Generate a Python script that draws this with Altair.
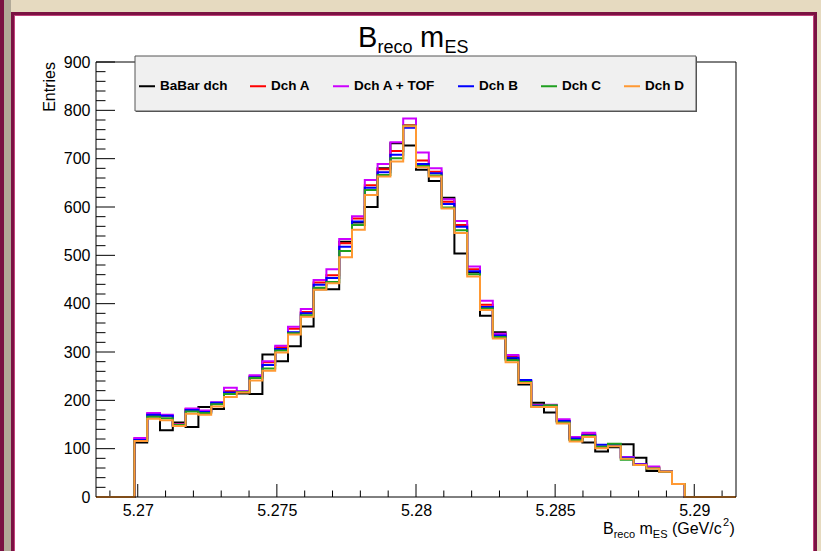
import altair as alt
import pandas as pd

# ---------------- data ----------------
SERIES = ["BaBar dch", "Dch A", "Dch A + TOF", "Dch B", "Dch C", "Dch D"]
COLORS = ["#000000", "#ff0000", "#cc00ff", "#0000ff", "#1f9f1f", "#ff9933"]

X_MIN, X_MAX = 5.2685, 5.2915
N_BINS = 50
LEAD_ZERO = 3
TRAIL_ZERO = 4

babar = [113, 167, 138, 154, 145, 186, 182, 214, 214, 213,
         295, 281, 312, 353, 430, 430, 528, 568, 600, 680,
         732, 727, 677, 654, 619, 504, 465, 375, 341, 286,
         233, 195, 175, 156, 119, 113, 94, 103, 109, 81,
         54, 52, 27]
dch_a = [121, 172, 168, 150, 182, 178, 194, 219, 218, 250,
         279, 310, 348, 383, 444, 459, 525, 576, 645, 678,
         716, 769, 696, 673, 611, 563, 471, 398, 336, 291,
         240, 190, 189, 158, 122, 130, 104, 108, 82, 68,
         62, 52, 27]
dch_a_tof = [122, 174, 170, 150, 183, 179, 196, 226, 219, 252,
             281, 313, 352, 389, 449, 471, 534, 581, 656, 689,
             734, 783, 713, 680, 616, 571, 477, 406, 338, 294,
             240, 190, 191, 161, 124, 133, 104, 108, 83, 68,
             63, 52, 27]
dch_b = [118, 170, 168, 147, 180, 176, 195, 216, 218, 248,
         273, 306, 341, 380, 439, 453, 518, 570, 640, 672,
         708, 764, 689, 670, 606, 559, 467, 393, 334, 288,
         242, 189, 188, 157, 121, 128, 108, 108, 81, 67,
         60, 52, 27]
dch_c = [116, 166, 163, 149, 177, 174, 192, 213, 217, 246,
         266, 303, 339, 376, 433, 445, 509, 563, 635, 666,
         701, 768, 685, 665, 599, 552, 461, 390, 331, 283,
         238, 187, 190, 154, 118, 126, 104, 110, 77, 66,
         59, 52, 27]
dch_d = [116, 162, 159, 147, 172, 170, 187, 207, 216, 241,
         261, 299, 336, 373, 429, 442, 496, 553, 625, 663,
         694, 767, 682, 663, 597, 546, 456, 387, 328, 279,
         236, 186, 186, 152, 115, 124, 101, 105, 79, 66,
         59, 52, 27]

X_MAJOR = [5.27, 5.275, 5.28, 5.285, 5.29]
X_MINOR = [5.269, 5.271, 5.272, 5.273, 5.274, 5.276, 5.277, 5.278, 5.279,
           5.281, 5.282, 5.283, 5.284, 5.286, 5.287, 5.288, 5.289, 5.291]
Y_MAJOR = [0, 100, 200, 300, 400, 500, 600, 700, 800, 900]
Y_MINOR = [v for v in range(20, 900, 20) if v % 100 != 0]

# ---------------- build tables ----------------
BIN_W = (X_MAX - X_MIN) / N_BINS
rows = []
for name, vals in zip(SERIES, [babar, dch_a, dch_a_tof, dch_b, dch_c, dch_d]):
    full = [0] * LEAD_ZERO + list(vals) + [0] * TRAIL_ZERO
    full = full + [full[-1]]
    for i, v in enumerate(full):
        rows.append({"series": name, "x": X_MIN + i * BIN_W, "y": v})
hist = pd.DataFrame(rows)

W, H = 640, 435
FONT = "Liberation Sans"

xscale = alt.Scale(domain=[X_MIN, X_MAX], nice=False, zero=False)
yscale = alt.Scale(domain=[0, 900], nice=False, zero=True)
xaxis = alt.Axis(values=X_MAJOR, format="~g", grid=False, ticks=False, tickSize=0,
                 domain=False, labelPadding=5, labelFont=FONT, labelFontSize=16,
                 labelColor="black", labelFlush=False, title=None, zindex=2)
yaxis = alt.Axis(values=Y_MAJOR, format="d", grid=False, ticks=False, tickSize=0,
                 domain=False, labelPadding=6, labelFont=FONT, labelFontSize=16,
                 labelColor="black", title=None, zindex=2)

one = pd.DataFrame({"k": [0]})


def rect(x, x2, y, y2, color):
    return alt.Chart(one).mark_rect().encode(
        x=alt.value(x), x2=alt.value(x2), y=alt.value(y), y2=alt.value(y2),
        color=alt.value(color))


def txt(s, x, y, size, **kw):
    return alt.Chart(one).mark_text(text=s, font=FONT, fontSize=size,
                                    align=kw.pop("align", "left"),
                                    baseline=kw.pop("baseline", "alphabetic"),
                                    color="black", **kw).encode(
        x=alt.value(x), y=alt.value(y))


OX, OY = 96, 62  # plot origin in page pixels

deco = [
    rect(-OX, 4 - OX, -OY, 551 - OY, "#7a1242"),
    rect(4 - OX, 11 - OX, -OY, 551 - OY, "#b2aa98"),
    rect(11 - OX, 817 - OX, 12 - OY, 551 - OY, "#7a1242"),
    rect(14 - OX, 814 - OX, 15 - OY, 551 - OY, "#c0407a"),
    rect(15 - OX, 813 - OX, 16 - OY, 551 - OY, "#ffffff"),
]

xt_major = alt.Chart(pd.DataFrame({"x": X_MAJOR})).mark_rule(color="black", strokeWidth=1).encode(
    x=alt.X("x:Q", scale=xscale, axis=xaxis), y=alt.value(H), y2=alt.value(H - 13))
xt_minor = alt.Chart(pd.DataFrame({"x": X_MINOR})).mark_rule(color="black", strokeWidth=1).encode(
    x=alt.X("x:Q", scale=xscale, axis=xaxis), y=alt.value(H), y2=alt.value(H - 6.5))
yt_major = alt.Chart(pd.DataFrame({"y": Y_MAJOR})).mark_rule(color="black", strokeWidth=1).encode(
    y=alt.Y("y:Q", scale=yscale, axis=yaxis), x=alt.value(0), x2=alt.value(19))
yt_minor = alt.Chart(pd.DataFrame({"y": Y_MINOR})).mark_rule(color="black", strokeWidth=1).encode(
    y=alt.Y("y:Q", scale=yscale, axis=yaxis), x=alt.value(0), x2=alt.value(9.5))

legend = alt.Legend(orient="none", legendX=42, legendY=15, direction="horizontal",
                    columns=6, symbolType="stroke", symbolSize=256, symbolStrokeWidth=2,
                    labelFont=FONT, labelFontWeight="bold", labelFontSize=13.5,
                    labelColor="black", labelOffset=4, columnPadding=18, padding=0,
                    title=None, labelLimit=300)
color = alt.Color("series:N", scale=alt.Scale(domain=SERIES, range=COLORS), legend=legend)

lines = []
for name in SERIES:
    lines.append(
        alt.Chart(hist).transform_filter(alt.datum.series == name)
        .mark_line(interpolate="step-after", strokeWidth=2, strokeJoin="miter")
        .encode(x=alt.X("x:Q", scale=xscale, axis=xaxis),
                y=alt.Y("y:Q", scale=yscale, axis=yaxis),
                color=color)
    )

frame = alt.Chart(one).mark_rect(filled=False, stroke="black", strokeWidth=1).encode(
    x=alt.value(0), x2=alt.value(W), y=alt.value(0), y2=alt.value(H))

legend_box = [
    rect(136 - OX, 697 - OX, 57 - OY, 112 - OY, "#555555"),
    alt.Chart(one).mark_rect(fill="#f0f0f0", stroke="#555555", strokeWidth=1).encode(
        x=alt.value(135 - OX), x2=alt.value(696 - OX), y=alt.value(56 - OY), y2=alt.value(111 - OY)),
]

texts = [
    # title  B_{reco} m_{ES}
    txt("B", 358 - OX, 47 - OY, 29),
    txt("reco", 377.5 - OX, 53 - OY, 18),
    txt("m", 420 - OX, 47 - OY, 29),
    txt("ES", 444.5 - OX, 53 - OY, 18),
    # x title  B_{reco} m_{ES} (GeV/c^{2})
    txt("B", 603 - OX, 534 - OY, 16),
    txt("reco", 613.7 - OX, 538 - OY, 11),
    txt("m", 639.5 - OX, 534 - OY, 16),
    txt("ES", 652.8 - OX, 538 - OY, 11),
    txt("(GeV/c", 671.9 - OX, 534 - OY, 16),
    txt("2", 723.0 - OX, 526 - OY, 11),
    txt(")", 729.6 - OX, 534 - OY, 16),
    # y title
    txt("Entries", 50 - OX, 0, 16, align="right", baseline="middle", angle=270),
]

chart = alt.layer(
    *deco, xt_major, xt_minor, yt_major, yt_minor, *lines, frame, *legend_box, *texts
).properties(
    width=W, height=H,
    autosize=alt.AutoSizeParams(type="none"),
    padding={"left": OX, "top": OY, "right": 821 - OX - W, "bottom": 551 - OY - H},
    background="#e6dac0",
).configure_view(strokeWidth=0)

chart.save("out.html", embed_options={"renderer": "svg", "actions": False})
